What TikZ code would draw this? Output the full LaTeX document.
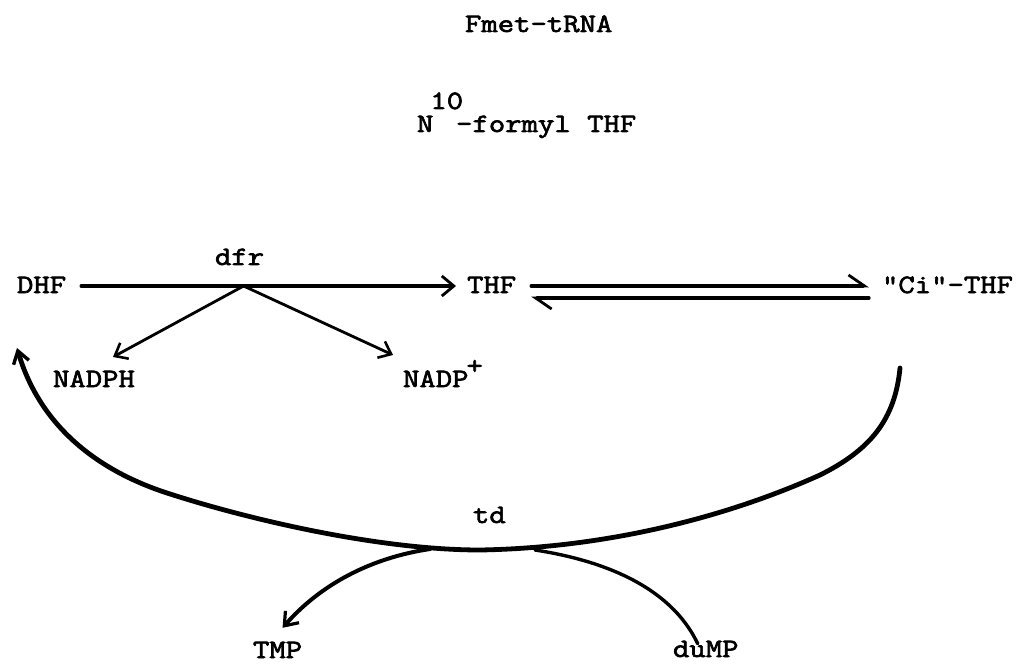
\documentclass[tikz,border=0pt]{standalone}
\usepackage{fontspec}
\newfontfamily\tw{Latin Modern Mono}[FakeStretch=1.2, FakeBold=2.5]
\usetikzlibrary{arrows.meta,calc}
\begin{document}
\begin{tikzpicture}[x=1pt,y=-1pt,
  lbl/.style={inner sep=0pt, outer sep=0pt, anchor=base west, font=\tw\fontsize{26.5}{30}\selectfont},
  rx/.style={line width=3.2pt, line cap=round},
  cv/.style={line width=4.8pt, line cap=round},
  barb/.style={-{Straight Barb[length=12pt,width=20pt,line width=2.8pt]}},
  harp/.style={-{Straight Barb[left,length=16pt,width=22pt,line width=2.8pt]}}
]
\useasboundingbox (0,0) rectangle (1022,668);

% labels
\node[lbl] (fmet) at (465,32) {Fmet-tRNA};
\node[lbl] (formyl) at (417,132) {N\kern-3pt\raisebox{23pt}{10}\kern-7pt-formyl THF};
\node[lbl] (dfr) at (215,265) {dfr};
\node[lbl] (dhf) at (17,293) {DHF};
\node[lbl] (thf) at (467,293) {THF};
\node[lbl] (ci) at (882,293) {"Ci"-THF};
\node[lbl] (nadph) at (53,387) {NADPH};
\node[lbl] (nadp) at (403,387) {NADP\kern-2pt\raisebox{13pt}{+}};
\node[lbl] (td) at (473,523) {td};
\node[lbl] (tmp) at (253,658) {TMP};
\node[lbl] (dump) at (673,657) {duMP};

% DHF -> THF with dfr
\draw[rx,barb] ([xshift=15pt,yshift=7pt]dhf.base east) -- ([xshift=-11pt,yshift=7pt]thf.base west);
\coordinate (v) at ($(dfr.base)+(4,21)$);
\coordinate (tipA) at ($(nadph.base west)+(60,-30)$);
\coordinate (tipB) at ($(nadp.base west)+(-10,-32)$);
\draw[line width=2.8pt, line cap=round, -{Straight Barb[length=11pt,width=18pt,line width=2.6pt]}] (v) -- (tipA);
\draw[line width=2.8pt, line cap=round, -{Straight Barb[length=11pt,width=18pt,line width=2.6pt]}] (v) -- (tipB);

% THF <=> "Ci"-THF harpoons
\draw[rx,harp] ([xshift=15pt,yshift=7pt]thf.base east) -- ([xshift=-13pt,yshift=7pt]ci.base west);
\draw[rx,harp] ([xshift=-13pt,yshift=-5pt]ci.base west) -- ([xshift=15pt,yshift=-5pt]thf.base east);

% td cycle
\coordinate (cstart) at ($(ci.base west)+(18,75)$);
\coordinate (ctip) at ($(dhf.base west)+(0,55)$);
\draw[cv, -{Straight Barb[length=12pt,width=16pt,line width=3.4pt]}]
  (cstart) .. controls (895,420) and (870,450) .. (820,475)
  .. controls (720,520) and (600,548) .. (480,550)
  .. controls (380,550) and (250,520) .. (167,493)
  .. controls (90,468) and (38,420) .. (ctip);

% dUMP -> TMP branch
\coordinate (m1) at (430,549);
\coordinate (m2) at (535,550);
\draw[line width=4pt, line cap=round, -{Straight Barb[length=12pt,width=18pt,line width=3.2pt]}]
  (m1) .. controls (370,558) and (320,585) .. ([xshift=5pt,yshift=14pt]tmp.north);
\draw[line width=3.4pt, line cap=round]
  ([xshift=-8pt,yshift=-3pt]dump.north) .. controls (670,585) and (600,560) .. (m2);
\end{tikzpicture}
\end{document}
